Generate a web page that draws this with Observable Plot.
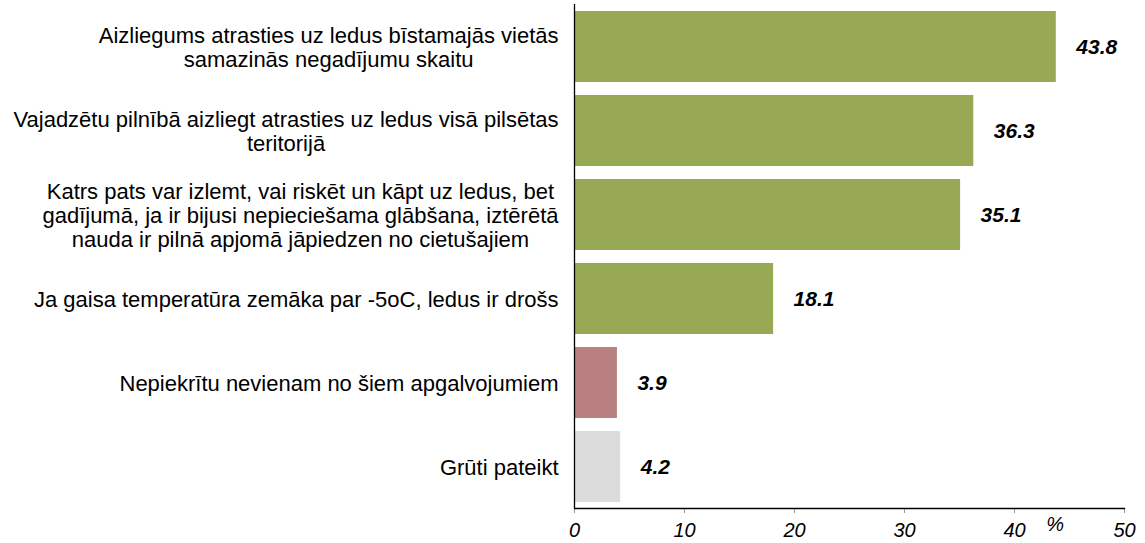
<!DOCTYPE html>
<html>
<head>
<meta charset="utf-8">
<script src="https://cdn.jsdelivr.net/npm/d3@7"></script>
<script src="https://cdn.jsdelivr.net/npm/@observablehq/plot@0.6"></script>
<style>
  html, body { margin: 0; padding: 0; background: #fff; }
  #chart svg { display: block; }
</style>
</head>
<body>
<div id="chart"></div>
<script>
const categories = [
  "Aizliegums atrasties uz ledus bīstamajās vietās\nsamazinās negadījumu skaitu",
  "Vajadzētu pilnībā aizliegt atrasties uz ledus visā pilsētas\nteritorijā",
  "Katrs pats var izlemt, vai riskēt un kāpt uz ledus, bet\ngadījumā, ja ir bijusi nepieciešama glābšana, iztērētā\nnauda ir pilnā apjomā jāpiedzen no cietušajiem",
  "Ja gaisa temperatūra zemāka par -5oC, ledus ir drošs",
  "Nepiekrītu nevienam no šiem apgalvojumiem",
  "Grūti pateikt"
];
const values = [43.8, 36.3, 35.1, 18.1, 3.9, 4.2];
const groups = ["agree", "agree", "agree", "agree", "none", "unsure"];
const xTicks = [0, 10, 20, 30, 40, 50];
const unitLabel = "%";

const data = categories.map((c, i) => ({cat: c, value: values[i], group: groups[i]}));

const chart = Plot.plot({
  width: 1145,
  height: 543,
  marginLeft: 574,
  marginRight: 21,
  marginTop: 4,
  marginBottom: 35,
  style: {fontFamily: "Arial, 'Liberation Sans', sans-serif", color: "#000", background: "#fff"},
  x: {domain: [0, 50], ticks: xTicks},
  y: {domain: categories, paddingInner: 0.16, paddingOuter: 0.075},
  color: {domain: ["agree", "none", "unsure"], range: ["#98a955", "#b88080", "#dcdcdc"]},
  marks: [
    Plot.barX(data, {x: "value", y: "cat", fill: "group"}),
    Plot.text(data, {x: "value", y: "cat", text: d => d.value.toFixed(1), textAnchor: "start", dx: 20, fontSize: 21, fontWeight: "bold", fontStyle: "italic", fill: "#000"}),
    Plot.axisY({tickSize: 0, tickPadding: 16, fontSize: 22, lineHeight: 1.09, label: null, fill: "#000"}),
    Plot.axisX({ticks: xTicks, tickSize: 5, tickPadding: 9, fontSize: 20, stroke: "#999", fill: "#000", label: null}),
    Plot.text([unitLabel], {x: 43.7, frameAnchor: "bottom", dy: 22, fontSize: 20, fontStyle: "italic", fill: "#000"}),
    Plot.ruleX([0], {stroke: "#000", strokeWidth: 1.3}),
    Plot.frame({anchor: "bottom", stroke: "#000", strokeWidth: 1.3})
  ]
});
document.getElementById("chart").appendChild(chart);

// Italic x tick labels, as in the reference.
chart.querySelectorAll('g[aria-label^="x-axis"] text').forEach(t => {
  t.style.fontStyle = "italic";
  t.setAttribute("font-style", "italic");
});

// Center-align the lines of multi-line category labels within their block (block right-aligned).
chart.querySelectorAll('g[aria-label="y-axis tick label"] text').forEach(t => {
  const spans = t.querySelectorAll("tspan");
  if (spans.length < 2) return;
  let maxW = 0;
  spans.forEach(s => { maxW = Math.max(maxW, s.getComputedTextLength()); });
  const base = parseFloat(t.getAttribute("x") || 0);
  t.setAttribute("text-anchor", "middle");
  spans.forEach(s => s.setAttribute("x", base - maxW / 2));
});
</script>
</body>
</html>
